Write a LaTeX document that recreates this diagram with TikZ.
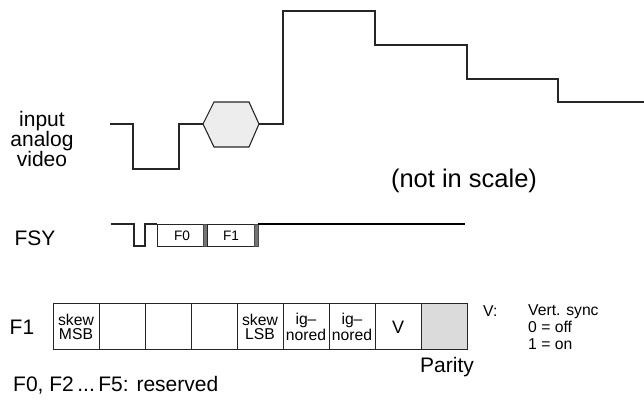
\documentclass[tikz,border=0pt]{standalone}
\usepackage{fontspec}
\setmainfont{Liberation Sans}
\begin{document}
\begin{tikzpicture}[x=1pt,y=-1pt,
  wave/.style={line width=1.1pt,draw=black!85},
  lbl/.style={inner sep=0pt,font=\fontsize{21}{20}\selectfont},
  celltxt/.style={inner sep=0pt,align=center,font=\fontsize{15.7}{14.5}\selectfont},
  cell/.style={draw=black!85,line width=0.9pt},
  fbox/.style={draw=black!85,line width=0.9pt},
  bar/.style={draw=black!70,fill=black!55,line width=0.6pt},
  smalltxt/.style={inner sep=0pt,font=\fontsize{15.7}{17}\selectfont}]
\useasboundingbox (0,0) rectangle (644,399);
% analog video waveform
\draw[wave] (110,124) -- (133,124) -- (133,169) -- (179,169) -- (179,124) -- (203,124);
\draw[wave,fill=black!7] (203,124) -- (214,102) -- (249,102) -- (259,124) -- (249,147) -- (214,147) -- cycle;
\draw[wave] (259,124) -- (283,124) -- (283,11) -- (375,11) -- (375,45) -- (467,45) -- (467,79) -- (558,79) -- (558,102) -- (644,102);
\node[lbl,align=center] (inp) at (42,139) {input\\analog\\video};
\node[inner sep=0pt,font=\fontsize{25.5}{28}\selectfont] (nis) at (464,181) {(not in scale)};
% FSY
\node[lbl] (fsy) at (35,238) {FSY};
\draw[wave] (111,224) -- (134,224) -- (134,246) -- (145,246) -- (145,224) -- (157,224);
\draw[fbox] (157,224) rectangle (203,246);
\node[inner sep=0pt,font=\fontsize{13.7}{14}\selectfont] (f0) at (182,236) {F0};
\draw[bar] (203,224) rectangle (207,246);
\draw[fbox] (207,224) rectangle (254,246);
\node[inner sep=0pt,font=\fontsize{13.7}{14}\selectfont] (f1s) at (231,236) {F1};
\draw[bar] (254,224) rectangle (258,246);
\draw[line width=2pt] (258,224) -- (465,224);
% F1 bits
\node[lbl] (f1) at (22,327) {F1};
\foreach \i/\x in {0/53,1/99,2/145,3/191,4/237,5/283,6/329,7/375}{
  \draw[cell] (\x,303) rectangle ++(46,46);
}
\draw[cell,fill=black!14] (421,303) rectangle (467,349);
\node[celltxt] (c0) at (76,327) {skew\\MSB};
\node[celltxt] (c4) at (260,327) {skew\\LSB};
\node[celltxt] (c5) at (306,327) {ig--\\nored};
\node[celltxt] (c6) at (352,327) {ig--\\nored};
\node[inner sep=0pt,font=\fontsize{18}{18}\selectfont] (cv) at (398,327) {V};
\node[lbl] (par) at (447,367) {Parity};
\node[smalltxt,anchor=west] (vl) at (483,311) {V:};
\node[smalltxt,anchor=north west,align=left] (vt) at (528,304) {Vert. sync\\0 = off\\1 = on};
\node[lbl,anchor=west] (res) at (13,385) {F0, F2\,...\,F5: reserved};
\end{tikzpicture}
\end{document}
